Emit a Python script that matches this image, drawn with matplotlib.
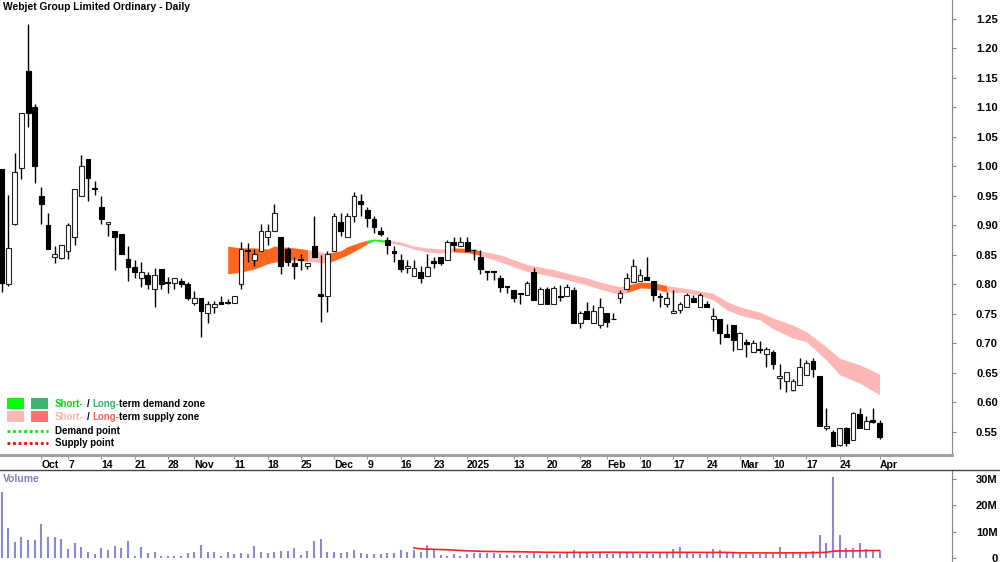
import matplotlib
matplotlib.use("Agg")
import matplotlib.pyplot as plt
from matplotlib.patches import Rectangle
import numpy as np
import pandas as pd

plt.rcParams['font.family'] = ['Liberation Sans', 'DejaVu Sans']

W, H = 1000, 562

# trading day index, 0 = Mon 7 Oct 2024 (first bar = 23 Sep 2024)
first_day = -10

opens = [0.996, 0.801, 0.903, 0.997, 1.162, 1.101, 0.950, 0.901, 0.847, 0.845,
         0.857, 0.881, 0.950, 1.013, 0.963, 0.931, 0.903, 0.891, 0.886, 0.843,
         0.830, 0.811, 0.816, 0.792, 0.826, 0.804, 0.803, 0.806, 0.801, 0.769,
         0.777, 0.752, 0.762, 0.770, 0.771, 0.769, 0.801, 0.858, 0.842, 0.857,
         0.881, 0.891, 0.881, 0.860, 0.836, 0.843, 0.831, 0.865, 0.783, 0.780,
         0.857, 0.906, 0.881, 0.916, 0.942, 0.926, 0.911, 0.891, 0.875, 0.857,
         0.842, 0.828, 0.814, 0.821, 0.814, 0.839, 0.847, 0.842, 0.872, 0.865,
         0.872, 0.859, 0.847, 0.822, 0.822, 0.811, 0.797, 0.791, 0.785, 0.782,
         0.821, 0.767, 0.792, 0.767, 0.781, 0.780, 0.791, 0.735, 0.755, 0.735,
         0.731, 0.752, 0.742, 0.777, 0.792, 0.804, 0.806, 0.813, 0.806, 0.780,
         0.767, 0.752, 0.757, 0.762, 0.777, 0.762, 0.767, 0.742, 0.742, 0.716,
         0.731, 0.691, 0.703, 0.686, 0.690, 0.682, 0.686, 0.642, 0.636, 0.621,
         0.630, 0.647, 0.670, 0.645, 0.557, 0.550, 0.528, 0.557, 0.536, 0.581,
         0.555, 0.570, 0.565]
highs = [0.996, 0.952, 1.023, 1.091, 1.242, 1.106, 0.965, 0.921, 0.865, 0.867,
         0.904, 0.962, 1.019, 1.013, 0.975, 0.950, 0.906, 0.891, 0.886, 0.865,
         0.842, 0.838, 0.821, 0.828, 0.826, 0.813, 0.811, 0.811, 0.804, 0.789,
         0.777, 0.772, 0.772, 0.780, 0.775, 0.780, 0.872, 0.870, 0.860, 0.903,
         0.903, 0.936, 0.881, 0.864, 0.847, 0.852, 0.836, 0.916, 0.850, 0.857,
         0.921, 0.921, 0.921, 0.957, 0.953, 0.931, 0.916, 0.897, 0.881, 0.865,
         0.852, 0.842, 0.842, 0.831, 0.852, 0.847, 0.847, 0.875, 0.881, 0.881,
         0.881, 0.860, 0.859, 0.823, 0.823, 0.816, 0.798, 0.791, 0.786, 0.806,
         0.828, 0.796, 0.796, 0.797, 0.799, 0.801, 0.796, 0.755, 0.770, 0.765,
         0.777, 0.752, 0.752, 0.791, 0.819, 0.843, 0.826, 0.847, 0.806, 0.786,
         0.787, 0.791, 0.770, 0.786, 0.782, 0.786, 0.772, 0.760, 0.742, 0.733,
         0.731, 0.720, 0.708, 0.706, 0.704, 0.694, 0.689, 0.665, 0.652, 0.640,
         0.675, 0.672, 0.675, 0.645, 0.591, 0.553, 0.557, 0.559, 0.584, 0.591,
         0.577, 0.591, 0.570]
lows = [0.787, 0.798, 0.900, 0.979, 1.067, 0.972, 0.903, 0.860, 0.836, 0.843,
        0.843, 0.867, 0.950, 0.942, 0.952, 0.903, 0.882, 0.825, 0.852, 0.806,
        0.811, 0.796, 0.792, 0.762, 0.792, 0.786, 0.792, 0.796, 0.774, 0.765,
        0.711, 0.735, 0.752, 0.767, 0.767, 0.769, 0.792, 0.838, 0.831, 0.857,
        0.867, 0.891, 0.818, 0.831, 0.809, 0.825, 0.826, 0.847, 0.736, 0.753,
        0.857, 0.882, 0.881, 0.906, 0.916, 0.897, 0.887, 0.882, 0.852, 0.838,
        0.821, 0.819, 0.814, 0.803, 0.814, 0.828, 0.833, 0.842, 0.857, 0.865,
        0.857, 0.842, 0.818, 0.808, 0.807, 0.787, 0.786, 0.770, 0.767, 0.782,
        0.774, 0.767, 0.767, 0.767, 0.772, 0.780, 0.735, 0.726, 0.742, 0.735,
        0.726, 0.728, 0.741, 0.769, 0.792, 0.804, 0.806, 0.808, 0.772, 0.762,
        0.762, 0.752, 0.752, 0.762, 0.770, 0.762, 0.762, 0.721, 0.699, 0.711,
        0.687, 0.691, 0.677, 0.686, 0.684, 0.660, 0.657, 0.623, 0.618, 0.619,
        0.630, 0.647, 0.643, 0.560, 0.553, 0.526, 0.526, 0.526, 0.536, 0.557,
        0.555, 0.565, 0.538]
closes = [0.803, 0.862, 0.991, 1.091, 1.091, 1.001, 0.936, 0.860, 0.852, 0.867,
          0.901, 0.962, 1.001, 0.981, 0.961, 0.911, 0.906, 0.881, 0.852, 0.830,
          0.821, 0.821, 0.801, 0.816, 0.801, 0.803, 0.811, 0.801, 0.777, 0.777,
          0.755, 0.767, 0.767, 0.767, 0.769, 0.780, 0.860, 0.856, 0.852, 0.891,
          0.891, 0.921, 0.831, 0.838, 0.831, 0.841, 0.836, 0.847, 0.781, 0.852,
          0.916, 0.891, 0.916, 0.950, 0.936, 0.913, 0.897, 0.886, 0.867, 0.853,
          0.826, 0.831, 0.828, 0.811, 0.830, 0.837, 0.836, 0.872, 0.867, 0.872,
          0.857, 0.858, 0.826, 0.821, 0.821, 0.796, 0.796, 0.777, 0.784, 0.803,
          0.774, 0.792, 0.767, 0.794, 0.779, 0.796, 0.735, 0.752, 0.742, 0.755,
          0.762, 0.736, 0.741, 0.786, 0.811, 0.831, 0.816, 0.808, 0.782, 0.778,
          0.777, 0.755, 0.767, 0.782, 0.770, 0.782, 0.762, 0.747, 0.718, 0.711,
          0.706, 0.718, 0.699, 0.701, 0.689, 0.691, 0.665, 0.645, 0.652, 0.637,
          0.660, 0.667, 0.657, 0.560, 0.560, 0.526, 0.557, 0.531, 0.582, 0.557,
          0.569, 0.567, 0.542]
volumes_m = [25.1, 11.4, 6.1, 8.0, 6.8, 6.8, 12.9, 8.0, 8.0, 7.2,
             3.4, 5.7, 4.2, 2.3, 1.5, 3.8, 3.0, 4.6, 3.8, 6.5,
             0.8, 4.2, 1.9, 2.3, 0.8, 0.8, 0.8, 0.8, 1.9, 2.3,
             4.9, 2.3, 2.3, 0.8, 2.3, 1.5, 1.9, 1.5, 4.6, 2.3,
             1.9, 2.3, 2.7, 2.7, 3.8, 1.1, 2.7, 6.5, 7.2, 2.3,
             2.3, 1.9, 2.3, 3.0, 1.9, 1.5, 1.5, 1.5, 1.9, 1.9,
             3.0, 2.3, 3.0, 2.3, 4.9, 3.0, 1.1, 0.8, 1.5, 0.8,
             1.5, 1.9, 1.9, 1.9, 1.9, 1.5, 1.1, 1.1, 1.1, 1.1,
             1.9, 1.1, 1.5, 1.1, 1.5, 1.9, 3.0, 1.9, 1.9, 1.5,
             1.9, 1.5, 1.5, 2.3, 1.9, 1.9, 1.5, 1.9, 1.5, 1.9,
             2.3, 3.4, 4.2, 1.9, 1.5, 1.5, 2.3, 3.4, 3.0, 1.9,
             2.3, 2.3, 1.5, 1.5, 1.5, 1.9, 1.5, 4.2, 2.3, 2.3,
             2.3, 2.3, 2.7, 8.7, 5.7, 30.8, 8.7, 3.8, 3.8, 5.7,
             3.4, 2.7, 2.7]

# supply/demand zone band
zone_days = [24, 26, 28, 30, 31, 34, 36, 39, 41, 42, 44, 45, 46, 48, 50, 52, 54,
             56, 58, 60, 62, 65, 69, 73, 75, 78, 80, 83, 84, 86, 88, 90, 93, 95,
             97, 99, 101, 104, 106, 109, 111, 114, 116, 119, 122]
zone_top = [0.865, 0.862, 0.862, 0.860, 0.865, 0.862, 0.859, 0.853, 0.857, 0.864,
            0.872, 0.875, 0.877, 0.875, 0.872, 0.865, 0.862, 0.860, 0.862, 0.861,
            0.857, 0.850, 0.834, 0.825, 0.819, 0.811, 0.804, 0.796, 0.799, 0.804,
            0.803, 0.798, 0.793, 0.789, 0.785, 0.771, 0.762, 0.753, 0.743, 0.731,
            0.720, 0.694, 0.675, 0.664, 0.648]
zone_bot = [0.818, 0.821, 0.826, 0.835, 0.838, 0.842, 0.839, 0.836, 0.845, 0.850,
            0.862, 0.869, 0.874, 0.871, 0.867, 0.860, 0.855, 0.853, 0.855, 0.854,
            0.849, 0.838, 0.822, 0.813, 0.808, 0.799, 0.792, 0.783, 0.786, 0.794,
            0.793, 0.787, 0.786, 0.781, 0.774, 0.757, 0.748, 0.740, 0.725, 0.709,
            0.703, 0.672, 0.647, 0.633, 0.613]
zone_segments = [(24, 36, 'long_supply'), (36, 39, 'short_supply'), (39, 45, 'long_supply'),
                 (45, 48, 'short_demand'), (48, 58, 'short_supply'), (58, 62, 'long_supply'),
                 (62, 84, 'short_supply'), (84, 90, 'long_supply'), (90, 122, 'short_supply')]
zone_colors = {'long_supply': '#FF6622', 'short_supply': '#FFB6B6', 'short_demand': '#22EE22'}

tick_days = [-4, 0, 5, 10, 15, 19, 25, 30, 35, 40, 45, 50, 55, 60, 67, 72, 77, 81,
             86, 91, 96, 101, 106, 111, 116, 122]
tick_labels = ['Oct', '7', '14', '21', '28', 'Nov', '11', '18', '25', 'Dec', '9', '16',
               '23', '2025', '13', '20', '28', 'Feb', '10', '17', '24', 'Mar', '10',
               '17', '24', 'Apr']

days = np.arange(first_day, first_day + len(opens))
o = np.array(opens); c = np.array(closes)
vol = np.array(volumes_m) * 1e6
vol_ma = pd.Series(vol).rolling(63).mean()

fig = plt.figure(figsize=(10, 5.62), dpi=100)
xlim = (-10.23, 132.9)

ax = fig.add_axes([0, 1 - 455 / H, 952 / W, 455 / H])
axv = fig.add_axes([0, 0, 952 / W, 92 / H])

# zones
zd = np.array(zone_days); zt = np.array(zone_top); zb = np.array(zone_bot)
for s, e, kind in zone_segments:
    m = (zd >= s) & (zd <= e)
    ax.fill_between(zd[m], zb[m], zt[m], color=zone_colors[kind], lw=0, zorder=1)

# candles
ax.vlines(days, lows, highs, color='black', lw=1, zorder=2)
up = c >= o
ax.bar(days[up], c[up] - o[up], bottom=o[up], width=0.72, color='white',
       edgecolor='#222222', linewidth=0.8, zorder=3)
ax.bar(days[~up], o[~up] - c[~up], bottom=c[~up], width=0.72, color='black',
       edgecolor='black', linewidth=0.8, zorder=3)

ax.set_xlim(*xlim)
ax.set_ylim(0.511, 1.282)
ax.yaxis.tick_right()
ax.set_yticks(np.arange(0.55, 1.26, 0.05))
ax.set_yticklabels(['%.2f' % v for v in np.arange(0.55, 1.26, 0.05)])
ax.tick_params(axis='y', direction='out', length=3, color='#888888', pad=30,
               labelsize=8)
for t in ax.get_yticklabels():
    t.set_fontweight('bold')
    t.set_horizontalalignment('right')
ax.set_xticks(tick_days)
ax.set_xticklabels(tick_labels)
ax.tick_params(axis='x', direction='out', length=3, color='#999999', pad=0.5,
               labelsize=7.5)
for t in ax.get_xticklabels():
    t.set_fontweight('bold')
    t.set_horizontalalignment('left')
for side in ['left', 'top']:
    ax.spines[side].set_visible(False)
ax.spines['right'].set_color('#888888')
ax.spines['bottom'].set_color('#A0A0A0')
ax.spines['bottom'].set_linewidth(2.2)

# volume
axv.vlines(days, 0, vol, color='#8A8AD2', lw=1.5)
axv.plot(days, vol_ma, color='#FF2020', lw=1.2)
axv.set_xlim(*xlim)
axv.set_ylim(-1.52e6, 33.46e6)
axv.set_xticks([])
axv.yaxis.tick_right()
axv.set_yticks([0, 10e6, 20e6, 30e6])
axv.set_yticklabels(['0', '10M', '20M', '30M'])
axv.tick_params(axis='y', direction='out', length=3, color='#888888', pad=30,
                labelsize=8)
for t in axv.get_yticklabels():
    t.set_fontweight('bold')
    t.set_horizontalalignment('right')
for side in ['left', 'bottom', 'top']:
    axv.spines[side].set_visible(False)
axv.spines['right'].set_color('#888888')

# overlay in pixel coordinates for title, legend and separators
ov = fig.add_axes([0, 0, 1, 1], zorder=10)
ov.set_xlim(0, W); ov.set_ylim(H, 0)
ov.axis('off')
ov.patch.set_alpha(0)
ov.plot([0, W], [469.5, 469.5], color='#444444', lw=1)

ov.text(3, 7.5, 'Webjet Group Limited Ordinary - Daily', fontsize=7.4, fontweight='bold',
        va='center', ha='left')
ov.text(3, 479, 'Volume', fontsize=7.5, fontweight='bold', color='#8080C0',
        va='center', ha='left')

renderer = fig.canvas.get_renderer()


def colour_line(x, y, parts):
    for s, col, gap in parts:
        t = ov.text(x, y, s, fontsize=7, fontweight='bold', color=col, va='center', ha='left')
        x += t.get_window_extent(renderer).width + gap


ov.add_patch(Rectangle((7, 398), 17, 11, color='#00FF00', lw=0))
ov.add_patch(Rectangle((31, 398), 17, 11, color='#3CB371', lw=0))
ov.add_patch(Rectangle((7, 411), 17, 11, color='#FFB6B6', lw=0))
ov.add_patch(Rectangle((31, 411), 17, 11, color='#FF7070', lw=0))
ov.plot([7, 48], [431, 431], color='#00EE00', lw=2, ls=(0, (1, 1)))
ov.plot([7, 48], [443, 443], color='#FF0000', lw=2, ls=(0, (1, 1)))

colour_line(55, 404, [('Short-', '#00DD00', 3), ('/', 'black', 3),
                      ('Long-', '#3CB371', 0), ('term demand zone', 'black', 0)])
colour_line(55, 417, [('Short-', '#FFB0B0', 3), ('/', 'black', 3),
                      ('Long-', '#FF6060', 0), ('term supply zone', 'black', 0)])
colour_line(55, 431, [('Demand point', 'black', 0)])
colour_line(55, 443, [('Supply point', 'black', 0)])

fig.savefig('out.png', dpi=100, facecolor='white')
